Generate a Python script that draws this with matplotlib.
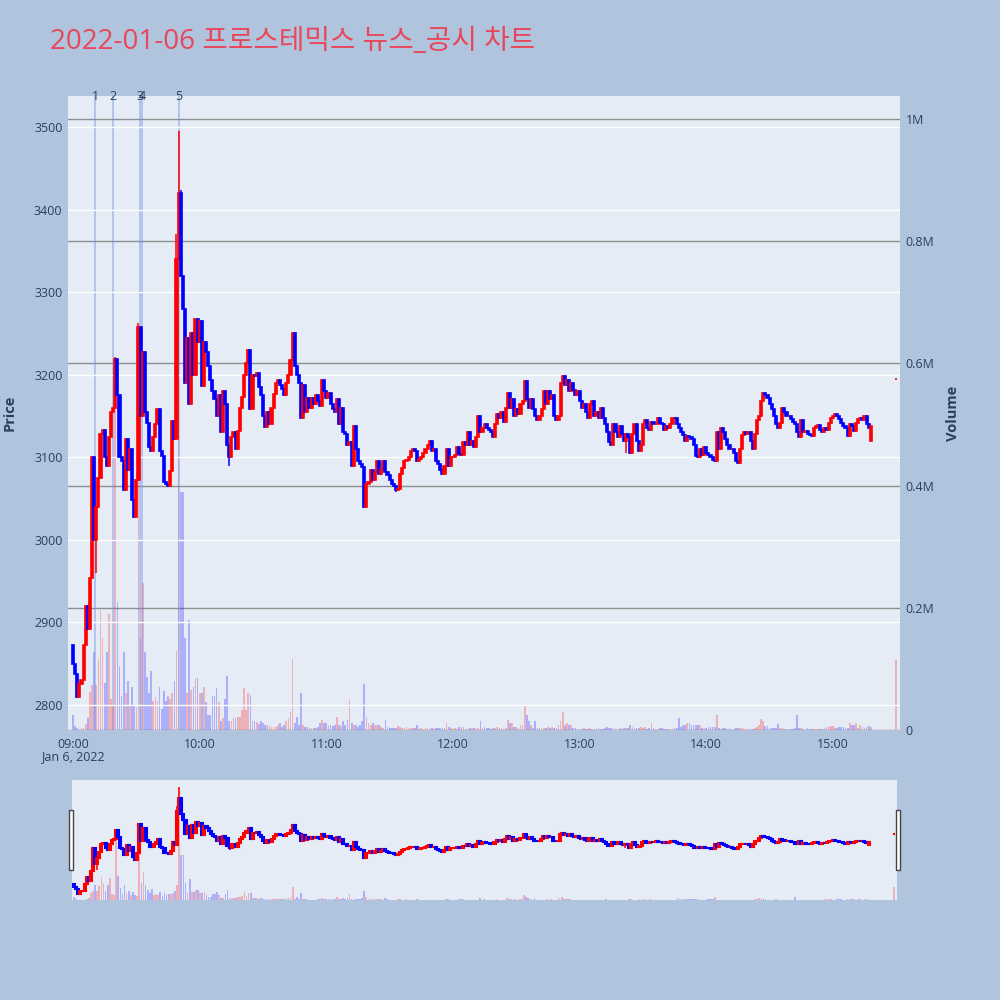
"""
Minute candlestick chart with volume, news markers and a range-slider strip.
"""

import numpy as np
import matplotlib
matplotlib.use("Agg")
import matplotlib.pyplot as plt
from matplotlib.patches import Rectangle
from matplotlib.transforms import blended_transform_factory

plt.rcParams["font.family"] = ["Open Sans", "Noto Sans CJK KR", "DejaVu Sans"]

TITLE = "2022-01-06 프로스테믹스 뉴스_공시 차트"

# close price of each minute candle, one list per hour (09:00 .. 15:18)
close_09 = [2850, 2838, 2810, 2825, 2830, 2873, 2920, 2892, 2954, 3100,
            3000, 3040, 3075, 3128, 3133, 3100, 3090, 3125, 3155, 3160,
            3219, 3175, 3100, 3095, 3060, 3122, 3085, 3110, 3048, 3028,
            3073, 3258, 3150, 3228, 3155, 3142, 3112, 3107, 3125, 3140,
            3158, 3107, 3102, 3070, 3068, 3065, 3083, 3144, 3122, 3340,
            3420, 3320, 3280, 3190, 3245, 3165, 3250, 3200, 3268, 3240]
close_10 = [3265, 3186, 3240, 3228, 3210, 3194, 3180, 3170, 3150, 3175,
            3131, 3180, 3165, 3115, 3100, 3125, 3130, 3110, 3132, 3160,
            3173, 3200, 3214, 3230, 3158, 3200, 3198, 3202, 3185, 3175,
            3150, 3137, 3155, 3140, 3160, 3177, 3190, 3194, 3187, 3183,
            3176, 3190, 3200, 3218, 3250, 3210, 3200, 3190, 3148, 3188,
            3155, 3172, 3160, 3172, 3165, 3175, 3168, 3162, 3193, 3180]
close_11 = [3172, 3178, 3165, 3158, 3155, 3170, 3140, 3160, 3130, 3128,
            3115, 3118, 3090, 3138, 3110, 3095, 3092, 3088, 3040, 3068,
            3070, 3085, 3072, 3082, 3095, 3080, 3085, 3095, 3082, 3078,
            3072, 3068, 3065, 3060, 3062, 3080, 3087, 3095, 3097, 3100,
            3107, 3110, 3108, 3095, 3098, 3100, 3105, 3110, 3115, 3120,
            3107, 3110, 3095, 3092, 3085, 3080, 3090, 3110, 3090, 3100]
close_12 = [3100, 3103, 3112, 3104, 3103, 3118, 3115, 3130, 3115, 3120,
            3112, 3125, 3150, 3130, 3135, 3140, 3135, 3133, 3130, 3125,
            3140, 3152, 3148, 3155, 3143, 3160, 3178, 3160, 3170, 3150,
            3158, 3152, 3165, 3168, 3192, 3170, 3160, 3170, 3158, 3150,
            3145, 3150, 3158, 3180, 3165, 3180, 3170, 3175, 3150, 3145,
            3150, 3190, 3198, 3188, 3193, 3180, 3190, 3182, 3175, 3180]
close_13 = [3168, 3160, 3165, 3155, 3148, 3165, 3168, 3150, 3155, 3148,
            3160, 3148, 3140, 3130, 3118, 3115, 3140, 3130, 3125, 3138,
            3128, 3120, 3128, 3125, 3105, 3128, 3140, 3120, 3108, 3115,
            3140, 3145, 3135, 3133, 3143, 3140, 3140, 3148, 3142, 3140,
            3133, 3138, 3135, 3140, 3148, 3147, 3140, 3135, 3130, 3127,
            3120, 3126, 3125, 3122, 3115, 3101, 3100, 3110, 3103, 3112]
close_14 = [3105, 3103, 3100, 3097, 3095, 3130, 3110, 3135, 3130, 3122,
            3115, 3110, 3110, 3105, 3095, 3093, 3110, 3127, 3130, 3128,
            3131, 3120, 3110, 3128, 3145, 3150, 3168, 3178, 3175, 3172,
            3165, 3158, 3150, 3140, 3135, 3142, 3160, 3155, 3150, 3150,
            3146, 3143, 3140, 3130, 3125, 3145, 3130, 3132, 3128, 3127,
            3126, 3135, 3138, 3139, 3133, 3130, 3135, 3133, 3142, 3148]
close_15 = [3150, 3152, 3150, 3146, 3142, 3138, 3136, 3126, 3140, 3138,
            3132, 3142, 3146, 3147, 3145, 3150, 3140, 3135, 3138]

# traded volume per minute, thousands of shares
vol_09 = [25, 6, 4, 2, 3, 4, 10, 20, 63, 74,
          127, 74, 117, 196, 150, 77, 127, 190, 50, 40,
          600, 210, 104, 56, 127, 60, 80, 40, 70, 40,
          37, 660, 150, 240, 127, 87, 60, 97, 47, 54,
          47, 70, 34, 64, 47, 55, 50, 60, 80, 130,
          980, 390, 390, 150, 60, 180, 65, 70, 85, 85]
vol_10 = [60, 60, 70, 46, 25, 25, 55, 55, 68, 46,
          14, 19, 50, 88, 14, 14, 19, 19, 22, 22,
          33, 68, 33, 60, 58, 14, 14, 13, 10, 14,
          12, 8, 8, 6, 5, 5, 5, 8, 11, 5,
          8, 14, 19, 30, 116, 11, 22, 8, 60, 8,
          5, 5, 3, 3, 4, 4, 5, 11, 16, 11]
vol_11 = [11, 8, 8, 6, 8, 22, 8, 6, 14, 8,
          16, 49, 11, 8, 8, 5, 8, 14, 76, 22,
          11, 9, 11, 8, 8, 8, 5, 4, 16, 5,
          4, 3, 4, 3, 7, 5, 3, 3, 5, 4,
          3, 3, 3, 8, 2, 3, 2, 3, 4, 2,
          3, 2, 3, 4, 3, 3, 4, 11, 5, 3]
vol_12 = [2, 3, 2, 5, 5, 5, 2, 2, 3, 4,
          4, 2, 4, 14, 3, 5, 3, 3, 2, 3,
          3, 5, 3, 3, 2, 3, 16, 11, 12, 5,
          5, 3, 8, 8, 40, 25, 14, 8, 4, 14,
          3, 3, 3, 4, 3, 5, 4, 5, 4, 4,
          8, 14, 30, 8, 11, 8, 9, 3, 4, 2]
vol_13 = [2, 2, 3, 2, 2, 3, 2, 2, 2, 3,
          2, 2, 3, 5, 4, 3, 3, 2, 2, 3,
          2, 3, 4, 3, 8, 5, 3, 3, 3, 5,
          3, 5, 2, 3, 12, 3, 2, 2, 3, 3,
          2, 2, 2, 2, 2, 3, 3, 19, 5, 8,
          9, 12, 11, 9, 8, 8, 8, 8, 3, 2]
vol_14 = [3, 5, 5, 5, 5, 25, 3, 2, 3, 3,
          2, 3, 2, 2, 3, 3, 3, 3, 2, 2,
          2, 2, 2, 3, 5, 8, 18, 14, 7, 7,
          3, 4, 4, 3, 10, 4, 3, 2, 2, 2,
          2, 2, 3, 25, 4, 3, 2, 2, 3, 2,
          2, 2, 2, 2, 2, 2, 4, 5, 5, 6]
vol_15 = [7, 3, 4, 5, 5, 5, 3, 3, 11, 8,
          8, 11, 4, 9, 5, 3, 5, 7, 5]

first_open = 2873
# candles whose open / high / low differ from the plain close-to-close body
open_fix = {378: 3120}
high_fix = {20: 3222, 31: 3262, 49: 3370, 50: 3495, 51: 3424}
low_fix = {2: 2808, 11: 2960, 74: 3090, 138: 3038, 153: 3058, 262: 3105}

# closing auction print at 15:30
auction_minute = 390
auction_price = 3195
auction_vol = 115

news_minutes = [10.4, 18.8, 31.7, 32.7, 50.1]
news_labels = ["1", "2", "3", "4", "5"]

hour_labels = ["09:00", "10:00", "11:00", "12:00", "13:00", "14:00", "15:00"]
price_ticks = [2800, 2900, 3000, 3100, 3200, 3300, 3400, 3500]
vol_ticks = [0, 200_000, 400_000, 600_000, 800_000, 1_000_000]

PAPER = "#B0C4DE"
PLOT_BG = "#E5ECF6"
TXT = "#2a3f5f"
UP = "#ff0000"
DOWN = "#0000ff"


def build_ohlc():
    closes = close_09 + close_10 + close_11 + close_12 + close_13 + close_14 + close_15
    vols = vol_09 + vol_10 + vol_11 + vol_12 + vol_13 + vol_14 + vol_15
    n = len(closes)
    x = np.r_[np.arange(n), auction_minute].astype(float)
    c = np.array(closes + [auction_price], dtype=float)
    o = np.r_[first_open, c[:-1]]
    o[-1] = auction_price
    for k, v in open_fix.items():
        o[k] = v
    h = np.maximum(o, c)
    lo = np.minimum(o, c)
    for k, v in high_fix.items():
        h[k] = v
    for k, v in low_fix.items():
        lo[k] = v
    vol = np.array(vols + [auction_vol], dtype=float) * 1000
    return x, o, h, lo, c, vol


def draw_candles(ax, x, o, h, lo, c, body_w=1.0, edge=1.2):
    up = c >= o
    cols = np.where(up, UP, DOWN)
    ax.vlines(x, lo, h, colors=cols, lw=1.1, zorder=3)
    ax.bar(x, np.abs(c - o), bottom=np.minimum(o, c), width=body_w,
           color=cols, edgecolor=cols, lw=edge, zorder=3)


def draw_volume(ax, x, o, c, vol):
    up = c >= o
    cols = np.where(up, UP, DOWN)
    ax.bar(x, vol, width=0.8, color=cols, alpha=0.25, lw=0, zorder=2)


def main() -> None:
    x, o, h, lo, c, vol = build_ohlc()
    xlim = (-2.4, 391.8)
    ylim = (2769.7, 3537.5)
    vlim = (0, 1_037_800)

    fig = plt.figure(figsize=(10, 10), dpi=100, facecolor=PAPER)

    # main panel: price on the left, volume on the right
    axp = fig.add_axes([0.068, 0.270, 0.832, 0.634])
    axv = axp.twinx()
    axp.set_zorder(axv.get_zorder() + 1)
    axp.patch.set_visible(False)
    axv.patch.set_visible(True)
    axv.patch.set_facecolor(PLOT_BG)

    draw_volume(axv, x, o, c, vol)
    axv.set_ylim(*vlim)
    axv.set_yticks(vol_ticks)
    axv.set_yticklabels(["0" if v == 0 else f"{v / 1e6:g}M" for v in vol_ticks])
    axv.grid(axis="y", color="#8f8f8f", lw=1.0)
    axv.set_axisbelow(True)

    for m in news_minutes:
        axp.axvline(m, color="#7393e8", lw=1.3, alpha=0.5, zorder=1)
    trans = blended_transform_factory(axp.transData, axp.transAxes)
    for m, lab in zip(news_minutes, news_labels):
        axp.text(m, 1.0, lab, transform=trans, ha="center", va="center",
                 fontsize=9, color=TXT, clip_on=False)

    draw_candles(axp, x, o, h, lo, c)
    axp.set_ylim(*ylim)
    axp.set_xlim(*xlim)
    axp.set_yticks(price_ticks)
    axp.grid(axis="y", color="white", lw=1.0, zorder=0)
    axp.set_xticks(np.arange(0, 361, 60))
    axp.set_xticklabels(hour_labels)

    for ax in (axp, axv):
        for s in ax.spines.values():
            s.set_visible(False)
        ax.tick_params(length=0, colors=TXT, labelsize=9, pad=4)
    axp.tick_params(axis="x", pad=6)

    fig.text(0.073, 1 - 0.757, "Jan 6, 2022", ha="center", va="center",
             fontsize=9, color=TXT)
    fig.text(0.010, 1 - 0.413, "Price", rotation=90, ha="center", va="center",
             fontsize=10.5, color=TXT, fontweight="bold")
    fig.text(0.953, 1 - 0.413, "Volume", rotation=90, ha="center", va="center",
             fontsize=10.5, color=TXT, fontweight="bold")
    fig.text(0.050, 1 - 0.042, TITLE, ha="left", va="center",
             fontsize=20, color="#E8475A")

    # range slider strip
    axs = fig.add_axes([0.072, 0.100, 0.825, 0.120])
    axsv = axs.twinx()
    axs.set_zorder(axsv.get_zorder() + 1)
    axs.patch.set_visible(False)
    axsv.patch.set_visible(True)
    axsv.patch.set_facecolor(PLOT_BG)
    draw_volume(axsv, x, o, c, vol)
    draw_candles(axs, x, o, h, lo, c, body_w=1.0, edge=1.5)
    axsv.set_ylim(*vlim)
    axs.set_ylim(*ylim)
    axs.set_xlim(-1.0, 391.5)
    for ax in (axs, axsv):
        ax.set_xticks([])
        ax.set_yticks([])
        for s in ax.spines.values():
            s.set_visible(False)

    for hx in (0.069, 0.8955):
        fig.add_artist(Rectangle((hx, 0.130), 0.004, 0.060, transform=fig.transFigure,
                                 facecolor="white", edgecolor="#444444", lw=1.0))

    fig.savefig("out.png", dpi=100, facecolor=PAPER)
    plt.close(fig)


if __name__ == "__main__":
    main()
